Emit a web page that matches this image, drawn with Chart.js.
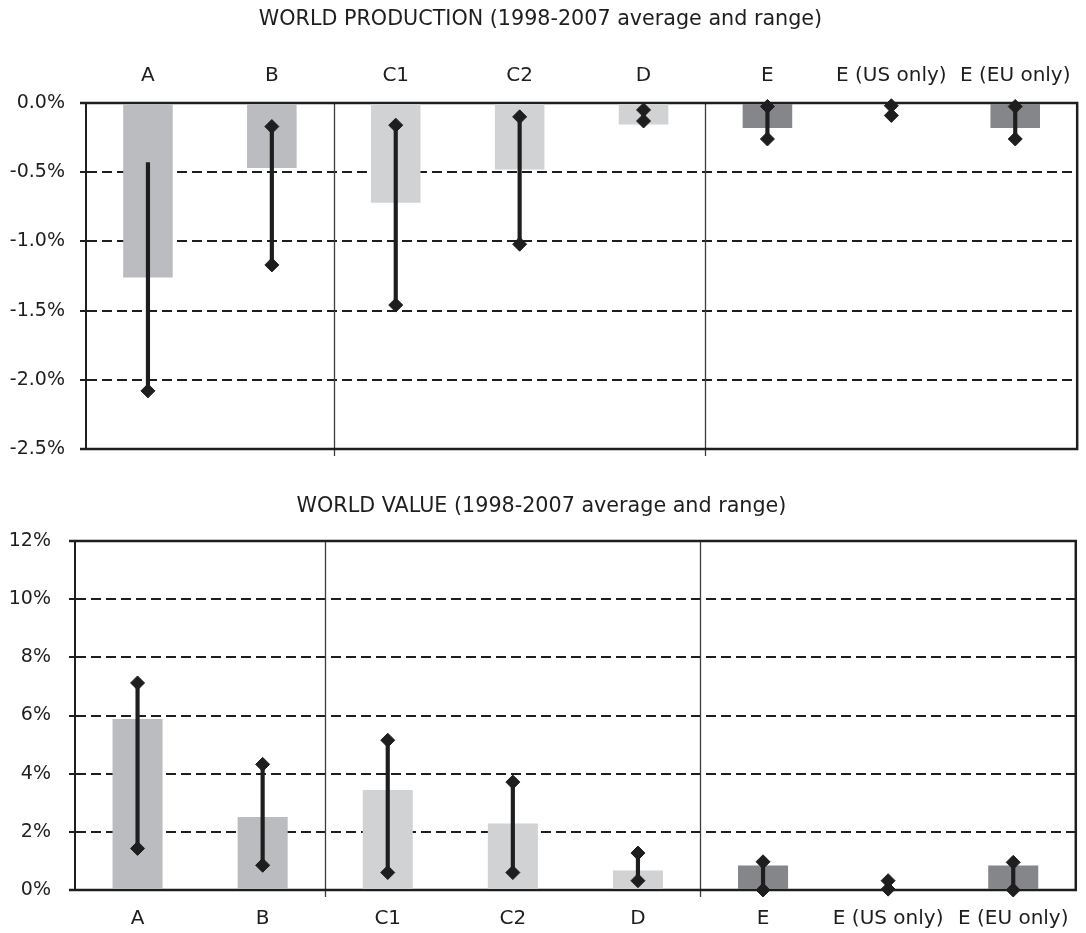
<!DOCTYPE html>
<html>
<head>
<meta charset="utf-8">
<script src="https://cdn.jsdelivr.net/npm/chart.js@4"></script>
<style>
  html, body { margin: 0; padding: 0; background: #ffffff; }
  #wrap { position: relative; width: 1086px; height: 933px; }
  canvas { position: absolute; left: 0; }
  #prod { top: 0; }
  #val { top: 470px; }
</style>
</head>
<body>
<div id="wrap">
  <canvas id="prod" width="1086" height="478"></canvas>
  <canvas id="val" width="1086" height="463"></canvas>
</div>
<script>
// Categories and grouping
const categories = ['A', 'B', 'C1', 'C2', 'D', 'E', 'E (US only)', 'E (EU only)'];
const groupBreaks = [1.5, 4.5];               // between B|C1 and D|E
const barColors = ['#bbbcbf', '#bbbcbf', '#d1d2d4', '#d1d2d4', '#d1d2d4', '#858689', '#858689', '#858689'];

// World production, % change (1998-2007 average, low and high)
const prodAvg  = [-1.26, -0.47, -0.72, -0.48, -0.155, -0.18, 0, -0.18];
const prodLow  = [-2.08, -1.17, -1.46, -1.02, -0.13, -0.26, -0.09, -0.26];
const prodHigh = [-0.43, -0.17, -0.16, -0.10, -0.05, -0.025, -0.02, -0.025];
const prodHighMarked = [false, true, true, true, true, true, true, true];

// World value, % change (1998-2007 average, low and high)
const valAvg  = [5.88, 2.51, 3.44, 2.29, 0.67, 0.84, 0, 0.84];
const valLow  = [1.43, 0.85, 0.60, 0.60, 0.32, 0.0, 0.03, 0.0];
const valHigh = [7.12, 4.32, 5.15, 3.71, 1.27, 0.97, 0.32, 0.95];
const valHighMarked = [true, true, true, true, true, true, true, true];

// Axis ticks
const prodTicks = { min: -2.5, max: 0, step: 0.5 };
const valTicks  = { min: 0, max: 12, step: 2 };

Chart.defaults.font.family = "'DejaVu Sans', sans-serif";
Chart.defaults.color = '#1e1e1e';

const INK = '#1e1e1e';

// Frame (top, right, bottom) and thin group separators
const framePlugin = {
  id: 'frame',
  beforeDatasetsDraw(chart) {
    const { ctx, chartArea: a, scales: { x } } = chart;
    ctx.save();
    ctx.strokeStyle = '#3c3c3c';
    ctx.lineWidth = 1.3;
    for (const b of groupBreaks) {
      const px = Math.round(x.getPixelForValue(b)) + 0.5;
      ctx.beginPath();
      ctx.moveTo(px, a.top);
      ctx.lineTo(px, a.bottom + 7);
      ctx.stroke();
    }
    ctx.strokeStyle = INK;
    ctx.lineWidth = 2.5;
    ctx.beginPath();
    ctx.moveTo(a.left - 6, a.top);
    ctx.lineTo(a.right, a.top);
    ctx.lineTo(a.right, a.bottom);
    ctx.lineTo(a.left - 6, a.bottom);
    ctx.stroke();
    ctx.restore();
  }
};

function diamonds(values) {
  return {
    type: 'line',
    data: values,
    showLine: false,
    pointStyle: 'rectRot',
    pointRadius: 7,
    pointBorderWidth: 1,
    pointBackgroundColor: INK,
    pointBorderColor: INK,
    clip: false,
    order: 1
  };
}

function buildDatasets(avg, low, high, marked) {
  return [
    diamonds(high.map((v, i) => (marked[i] ? v : null))),
    diamonds(low),
    {
      type: 'bar',
      data: low.map((v, i) => [v, high[i]]),
      backgroundColor: INK,
      barThickness: 3.5,
      grouped: false,
      order: 2
    },
    {
      type: 'bar',
      data: avg,
      backgroundColor: barColors,
      barPercentage: 0.4,
      categoryPercentage: 1.0,
      grouped: false,
      order: 3
    }
  ];
}

function yScale(t, fmt, width, pad) {
  return {
    min: t.min,
    max: t.max,
    afterFit: (s) => { s.width = width; },
    ticks: {
      stepSize: t.step,
      padding: pad,
      font: { size: 19 },
      color: INK,
      callback: fmt
    },
    grid: {
      color: INK,
      lineWidth: 2,
      tickLength: 6,
      tickColor: INK,
      tickWidth: 2
    },
    border: { display: true, color: INK, width: 2, dash: [10, 5] }
  };
}

function xScale(position, height, pad) {
  return {
    type: 'category',
    position: position,
    offset: true,
    afterFit: (s) => { s.height = height; },
    grid: { display: false, drawTicks: false },
    border: { display: false },
    ticks: { padding: pad, font: { size: 20 }, color: INK, maxRotation: 0, autoSkip: false }
  };
}

const titleFont = { size: 20.7, weight: 'normal', lineHeight: 1.16 };

const common = {
  responsive: false,
  devicePixelRatio: 1,
  animation: false,
  events: []
};

// WORLD PRODUCTION
new Chart(document.getElementById('prod'), {
  data: { labels: categories, datasets: buildDatasets(prodAvg, prodLow, prodHigh, prodHighMarked) },
  options: Object.assign({}, common, {
    layout: { padding: { left: 0, right: 5, top: 0, bottom: 29 } },
    plugins: {
      legend: { display: false },
      tooltip: { enabled: false },
      title: {
        display: true,
        text: 'WORLD PRODUCTION (1998-2007 average and range)',
        font: titleFont,
        color: INK,
        padding: { top: 8, bottom: 0 }
      }
    },
    scales: {
      x: xScale('top', 71, 15),
      y: yScale(prodTicks, (v) => v.toFixed(1) + '%', 86, 15)
    }
  }),
  plugins: [framePlugin]
});

// WORLD VALUE
new Chart(document.getElementById('val'), {
  data: { labels: categories, datasets: buildDatasets(valAvg, valLow, valHigh, valHighMarked) },
  options: Object.assign({}, common, {
    layout: { padding: { left: 0, right: 3, top: 0, bottom: 0 } },
    plugins: {
      legend: { display: false },
      tooltip: { enabled: false },
      title: {
        display: true,
        text: 'WORLD VALUE (1998-2007 average and range)',
        font: titleFont,
        color: INK,
        padding: { top: 25, bottom: 22 }
      }
    },
    scales: {
      x: xScale('bottom', 43, 17),
      y: yScale(valTicks, (v) => Math.round(v) + '%', 75, 18)
    }
  }),
  plugins: [framePlugin]
});
</script>
</body>
</html>
